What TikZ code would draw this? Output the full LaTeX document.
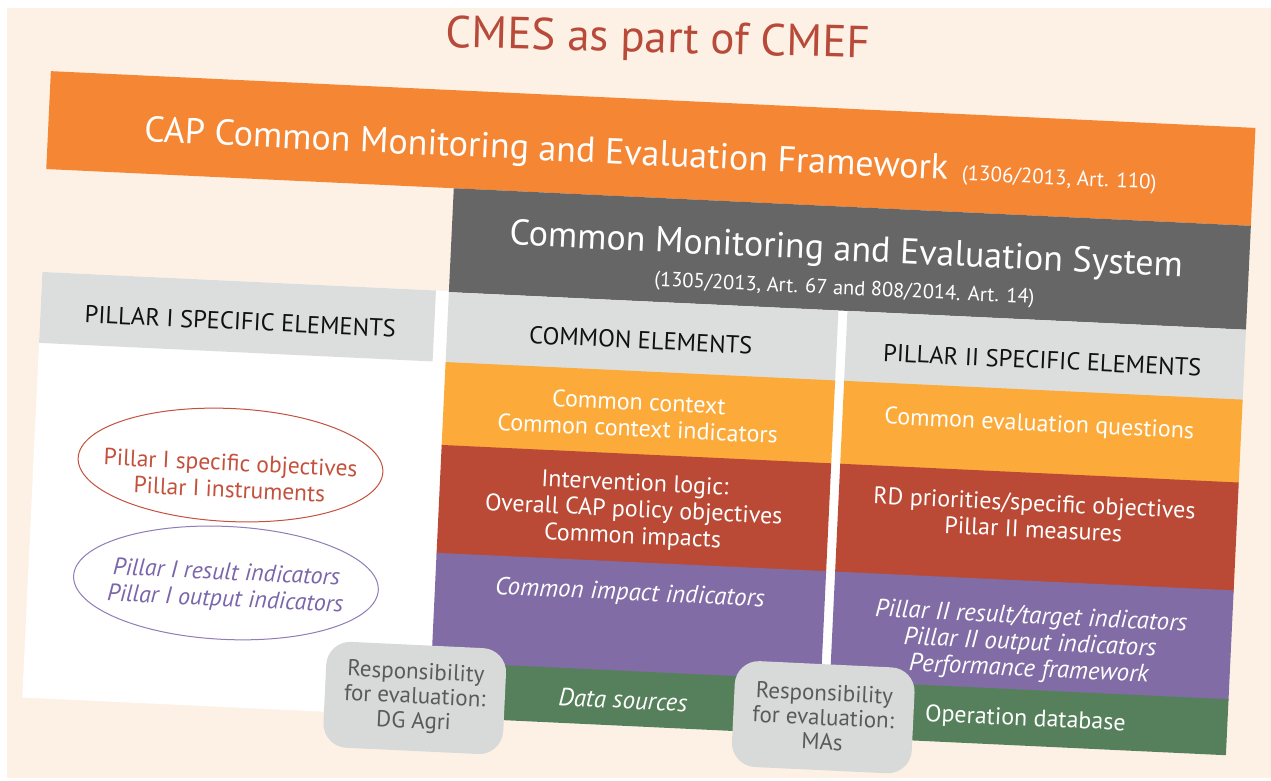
\documentclass[tikz,border=0pt]{standalone}
\usepackage{fontspec}
\setmainfont{PT Sans}

\usetikzlibrary{shapes.geometric}

\definecolor{peach}{HTML}{FDF1E6}
\definecolor{cmefor}{HTML}{F58634}
\definecolor{cmesgr}{HTML}{666666}
\definecolor{headgr}{HTML}{DCDEDD}
\definecolor{headtx}{HTML}{111111}
\definecolor{lightor}{HTML}{FCAB3A}
\definecolor{brickred}{HTML}{BA4A35}
\definecolor{lilac}{HTML}{816CA6}
\definecolor{leaf}{HTML}{56805B}
\definecolor{badgegr}{HTML}{D8DADA}
\definecolor{badgetx}{HTML}{5A5A5A}
\definecolor{titlered}{HTML}{B84A39}
\definecolor{ovalred}{HTML}{C4513D}
\definecolor{ovallilac}{HTML}{7B65AB}

\tikzset{
  box/.style={draw=white, line width=2pt},
  hdr/.style={font=\fontsize{24.5}{28}\selectfont, text=headtx},
  cell/.style={align=center, text=white, font=\fontsize{24}{26.5}\selectfont},
  celli/.style={align=center, text=white, font=\fontsize{25}{26.5}\selectfont\itshape},
  oval/.style={ellipse, line width=1pt, minimum width=305pt, minimum height=113pt,
    inner sep=0pt},
  ovaltext/.style={align=center, font=\fontsize{23.5}{26.5}\selectfont},
  badge/.style={fill=badgegr, rounded corners=24pt, minimum width=180pt,
    minimum height=106pt, align=center, text=badgetx, font=\fontsize{23}{24.5}\selectfont},
}

\begin{document}
\begin{tikzpicture}[x=1pt, y=-1pt]

  % fond
  \fill[white] (0,0) rectangle (1271,780);
  \useasboundingbox (0,0) rectangle (1271,780);
  \fill[peach] (7,8) rectangle (1271,778);

  \node[text=titlered, font=\fontsize{45}{50}\selectfont, rotate=-1.4] (title) at (658,41) {CMES as part of CMEF};

  \begin{scope}[shift={(635,400)}, rotate=-2.7, transform shape]

    % panneau blanc
    \fill[white] (-598,-100) rectangle (606,326);

    % CMEF
    \fill[box, cmefor] (-598,-300) rectangle (606,-204);
    \node[anchor=base, text=white] (cmef) at (4,-235)
      {\fontsize{36}{40}\selectfont CAP Common Monitoring and Evaluation Framework\hspace{14pt}\fontsize{21}{24}\selectfont(1306/2013, Art. 110)};

    % CMES
    \fill[box, cmesgr] (-190,-202) rectangle (606,-100);
    \node[anchor=base, text=white, font=\fontsize{36}{40}\selectfont] (cmes) at (204,-149)
      {Common Monitoring and Evaluation System};
    \node[anchor=base, text=white, font=\fontsize{20.5}{24}\selectfont] (cmesref) at (204,-115)
      {(1305/2013, Art. 67 and 808/2014. Art. 14)};

    % en-tetes
    \fill[box, headgr] (-597,-99) rectangle (-205,-30);
    \fill[box, headgr] (-190,-98) rectangle (198,-28);
    \fill[box, headgr] (209,-98) rectangle (606,-28);
    \node[hdr] (pilIhead) at (-398,-60) {PILLAR I SPECIFIC ELEMENTS};
    \node[hdr] (commonhead) at (3,-60) {COMMON ELEMENTS};
    \node[hdr] (pilIIhead) at (405,-59) {PILLAR II SPECIFIC ELEMENTS};

    % colonne commune
    \fill[box, lightor] (-190,-28) rectangle (198,55);
    \fill[box, brickred] (-190,55) rectangle (198,163);
    \fill[box, lilac] (-190,163) rectangle (198,272);
    \fill[box, leaf] (-190,272) rectangle (198,325);

    % colonne pilier II
    \fill[box, lightor] (209,-28) rectangle (606,55);
    \fill[box, brickred] (209,55) rectangle (606,163);
    \fill[box, lilac] (209,163) rectangle (606,272);
    \fill[box, leaf] (209,272) rectangle (606,326);

    \node[cell] (context) at (4,15) {Common context\\Common context indicators};
    \node[cell] (evalq) at (405,6) {Common evaluation questions};
    \node[cell] (interv) at (4,111) {Intervention logic:\\Overall CAP policy objectives\\Common impacts};
    \node[cell] (rdprio) at (404,97) {RD priorities/specific objectives\\Pillar II measures};
    \node[celli] (impact) at (4,194) {Common impact indicators};
    \node[celli] (pilIIind) at (406,225) {Pillar II result/target indicators\\Pillar II output indicators\\Performance framework};
    \node[celli] (datasrc) at (2,300) {Data sources};
    \node[cell] (opdb) at (405,301) {Operation database};

    % pilier I
    \node[oval, draw=ovalred] (pilIobjoval) at (-401,84) {};
    \node[ovaltext, text=ovalred] (pilIobj) at (-401,95)
      {Pillar I specific objectives\\Pillar I instruments};
    \node[oval, draw=ovallilac!85] (pilIindoval) at (-400,202) {};
    \node[ovaltext, text=ovallilac, font=\fontsize{24}{26.5}\selectfont\itshape] (pilIind) at (-400,206)
      {Pillar I result indicators\\Pillar I output indicators};

    % responsabilites
    \node[badge] (respdg) at (-206,308) {Responsibility\\for evaluation:\\DG Agri};
    \node[badge] (respma) at (203,308) {Responsibility\\for evaluation:\\MAs};

  \end{scope}

\end{tikzpicture}
\end{document}
